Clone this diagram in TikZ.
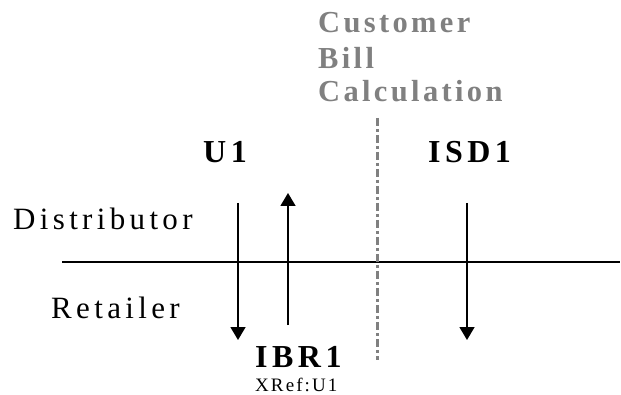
\documentclass[tikz,border=0pt]{standalone}
\usepackage{fontspec}
\setmainfont{Liberation Serif}
\newfontfamily\roomy[LetterSpace=14]{Liberation Serif}
\newfontfamily\snug[LetterSpace=11]{Liberation Serif}
\usetikzlibrary{arrows.meta}

\begin{document}
\begin{tikzpicture}[
  x=1pt, y=-1pt,
  lbl/.style={anchor=base west, inner sep=0pt, font=\roomy\fontsize{31}{32}\selectfont},
  head/.style={lbl, font=\roomy\bfseries\fontsize{32}{33}\selectfont},
  note/.style={lbl, text=gray, font=\snug\bfseries\fontsize{30.5}{31}\selectfont},
  arr/.style={-{Triangle[width=15pt,length=13pt]}, line width=1.5pt}
]
\useasboundingbox (0,0) rectangle (621,395);

% labels
\node[note] (cust) at (318,33) {Customer};
\node[note] (bill) at (318,69) {Bill};
\node[note] (calc) at (318,102) {Calculation};
\node[head] (u1) at (203,163) {U1};
\node[head] (isd) at (428,163) {ISD1};
\node[head] (ibr) at (255,367) {IBR1};
\node[lbl, font=\snug\fontsize{19}{20}\selectfont] (xref) at (255,391) {XRef:U1};
\node[lbl] (dist) at (13,230) {Distributor};
\node[lbl] (ret) at (51,319) {Retailer};

% line and divider
\coordinate (bl) at (62,262);
\coordinate (br) at (620,262);
\draw[line width=1.6pt] (bl) -- (br);
\coordinate (dt) at (377,118);
\coordinate (db) at (377,360);
\draw[gray, line width=3pt, dash pattern=on 8pt off 3pt on 3pt off 3pt] (dt) -- (db);

% flows
\coordinate (u1s) at (238,203);
\coordinate (u1e) at (238,340);
\coordinate (ibrs) at (288,325);
\coordinate (ibre) at (288,193);
\coordinate (isds) at (467,203);
\coordinate (isde) at (467,340);
\draw[arr] (u1s) -- (u1e);
\draw[arr] (ibrs) -- (ibre);
\draw[arr] (isds) -- (isde);
\end{tikzpicture}
\end{document}
